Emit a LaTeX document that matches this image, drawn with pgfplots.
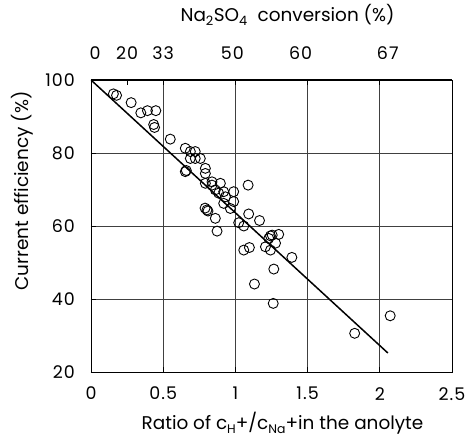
\documentclass[border=0pt]{standalone}
\usepackage{fontspec}
\setmainfont{Poppins}
\newfontfamily\tickfont[LetterSpace=6, Numbers=Monospaced]{Poppins}
\usepackage{pgfplots}
\pgfplotsset{compat=1.18}
\begin{document}
\fontsize{18}{20}\selectfont
\begin{tikzpicture}
\useasboundingbox (-91bp,-66bp) rectangle (377bp,372bp);
\begin{axis}[
  at={(0,0)}, anchor=south west,
  scale only axis, width=361bp, height=292bp,
  xmin=0, xmax=2.5, ymin=20, ymax=100,
  xtick={0,0.5,1,1.5,2,2.5}, xticklabels={0,0.5,1,1.5,2,2.5},
  ytick={20,40,60,80,100},
  xtick pos=bottom, ytick pos=left,
  grid=major,
  major grid style={draw=black!75, line width=0.8pt},
  major tick style={draw=black, line width=0.9pt},
  tick align=inside, major tick length=5bp,
  axis line style={black, line width=1pt},
  /pgf/number format/assume math mode=true,
  ticklabel style={font=\tickfont\fontsize{17.5}{19}\selectfont},
  xticklabel style={yshift=-9bp},
  yticklabel style={xshift=-10bp},
  xlabel={Ratio of c\raisebox{-0.45ex}{\fontsize{12.5}{12}\selectfont H}+/c\raisebox{-0.45ex}{\fontsize{12.5}{12}\selectfont Na}+in the anolyte},
  ylabel={Current efficiency (\%)},
  label style={font=\fontsize{18.5}{20}\selectfont},
  xlabel style={at={(axis description cs:0.5,0)}, anchor=center, yshift=-51bp, xshift=11bp},
  ylabel style={at={([xshift=-69bp, yshift=35bp]axis description cs:0,0.5)}, anchor=center},
]
\addplot[only marks, mark=o, mark size=5bp, mark options={line width=0.9pt, black}] coordinates {
(0.155,96.2) (0.177,95.8) (0.278,93.8) (0.345,91.0) (0.391,91.6) (0.449,91.6)
(0.434,87.8) (0.440,87.0) (0.549,83.8) (0.653,81.3) (0.688,80.4) (0.722,80.4)
(0.688,78.5) (0.722,78.5) (0.757,78.5) (0.653,74.9) (0.660,75.2) (0.792,75.8)
(0.792,74.4) (0.792,71.7) (0.838,72.1) (0.838,71.2) (0.896,71.7) (0.861,69.9)
(0.919,69.4) (0.988,69.4) (0.884,69.0) (0.931,68.0) (0.988,66.7) (0.919,66.2)
(0.965,64.8) (1.088,71.2) (0.803,64.4) (0.790,64.9) (0.810,64.1) (0.861,62.1)
(0.873,58.6) (1.092,63.3) (1.167,61.5) (1.023,60.9) (1.058,60.0) (1.243,57.3)
(1.300,57.7) (1.231,56.6) (1.278,55.3) (1.208,54.3) (1.243,53.4) (1.255,57.5)
(1.058,53.4) (1.097,54.1) (1.391,51.4) (1.266,48.2) (1.132,44.1) (1.262,38.8)
(1.826,30.6) (2.072,35.4)
};
\addplot[black, line width=1.5pt] coordinates {(0,100) (2.056,25.2)};
\end{axis}
\begin{axis}[
  at={(0,0)}, anchor=south west,
  scale only axis, width=361bp, height=292bp,
  xmin=0, xmax=2.5, ymin=20, ymax=100,
  axis x line*=top, hide y axis,
  xtick={0,0.25,0.5,1,1.5,2},
  xticklabels={\hspace*{8bp}0,20,33,\hspace*{-6bp}50,\hspace*{-14bp}60,\hspace*{16bp}67},
  major tick style={draw=black, line width=0.9pt},
  tick align=inside, major tick length=5bp,
  axis line style={black, line width=1pt},
  ticklabel style={font=\tickfont\fontsize{17.5}{19}\selectfont},
  xticklabel style={yshift=14bp},
  xlabel={Na\textsubscript{2}SO\textsubscript{4}\ \ conversion (\%)},
  label style={font=\fontsize{18.5}{20}\selectfont},
  xlabel style={at={(axis description cs:0.5,1)}, anchor=center, yshift=65bp, xshift=16bp},
]
\end{axis}
\end{tikzpicture}
\end{document}
